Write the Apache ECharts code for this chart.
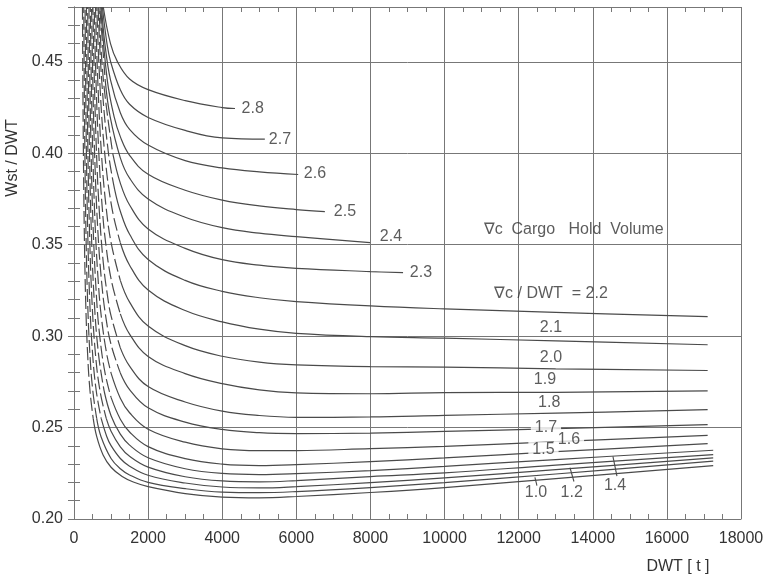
<!DOCTYPE html>
<html><head><meta charset="utf-8">
<script src="https://cdn.jsdelivr.net/npm/echarts@6/dist/echarts.min.js"></script>
<style>html,body{margin:0;padding:0;background:#fff}#c{width:769px;height:579px}</style>
</head><body><div id="c"></div>
<script>
// Vc/DWT ratio of each curve
const ratios = ['1.0','1.1','1.2','1.3','1.4','1.5','1.6','1.7','1.8','1.9','2.0','2.1','2.2','2.3','2.4','2.5','2.6','2.7','2.8'];
// curve points [DWT, Wst/DWT]
const c10 = [[229,0.48],[239,0.44],[254,0.40],[276,0.36],[314,0.32],[368,0.29],[432,0.27],[518,0.255],[614,0.245],[785,0.235],[1000,0.2283],[1300,0.2232],[1600,0.2202],[2000,0.2177],[3000,0.2139],[4000,0.2120],[5000,0.2116],[6000,0.2123],[8000,0.2145],[10000,0.2172],[13000,0.2221],[17250,0.2292]];
const c11 = [[264,0.48],[276,0.44],[294,0.40],[320,0.36],[366,0.32],[430,0.29],[508,0.27],[612,0.255],[730,0.245],[1000,0.2331],[1250,0.2275],[1500,0.2241],[2000,0.2200],[3000,0.2166],[4000,0.2147],[5000,0.2144],[6000,0.2150],[8000,0.2172],[10000,0.2199],[13000,0.2246],[17250,0.2316]];
const c12 = [[299,0.48],[314,0.44],[335,0.40],[367,0.36],[423,0.32],[503,0.29],[601,0.27],[733,0.255],[886,0.245],[1000,0.2401],[1250,0.2331],[1500,0.2289],[2000,0.2239],[3000,0.2197],[4000,0.2175],[5000,0.2170],[6000,0.2177],[8000,0.2199],[10000,0.2225],[13000,0.2270],[17250,0.2334]];
const c13 = [[334,0.48],[351,0.44],[376,0.40],[415,0.36],[483,0.32],[580,0.29],[702,0.27],[870,0.255],[1000,0.2480],[1250,0.2395],[1500,0.2343],[2000,0.2284],[3000,0.2231],[4000,0.2208],[5000,0.2203],[6000,0.2210],[8000,0.2232],[10000,0.2252],[13000,0.2295],[17250,0.2352]];
const c14 = [[369,0.48],[389,0.44],[419,0.40],[464,0.36],[544,0.32],[662,0.29],[813,0.27],[1000,0.2565],[1250,0.2464],[1500,0.2404],[2000,0.2335],[3000,0.2275],[4000,0.2249],[5000,0.2243],[6000,0.2248],[8000,0.2265],[10000,0.2288],[13000,0.2325],[17250,0.2376]];
const c15 = [[404,0.48],[428,0.44],[462,0.40],[515,0.36],[611,0.32],[695,0.30],[836,0.28],[1000,0.2665],[1250,0.2546],[1500,0.2476],[2000,0.2396],[3000,0.2330],[4000,0.2300],[5000,0.2292],[6000,0.2297],[8000,0.2314],[10000,0.2334],[13000,0.2368],[17100,0.2412]];
const c16 = [[439,0.48],[467,0.44],[507,0.40],[572,0.36],[654,0.33],[741,0.31],[885,0.29],[1000,0.2798],[1250,0.2661],[1500,0.2581],[2000,0.2491],[3000,0.2420],[4000,0.2384],[5000,0.2374],[6000,0.2374],[8000,0.2385],[10000,0.2397],[13000,0.2423],[17100,0.2457]];
const c17 = [[474,0.48],[507,0.44],[556,0.40],[637,0.36],[743,0.33],[862,0.31],[1000,0.2954],[1250,0.2799],[1500,0.2708],[2000,0.2608],[3000,0.2530],[4000,0.2490],[5000,0.2472],[6000,0.2467],[8000,0.2470],[10000,0.2479],[13000,0.2494],[17100,0.2516]];
const c18 = [[510,0.48],[549,0.44],[608,0.40],[678,0.37],[791,0.34],[919,0.32],[1000,0.3111],[1250,0.2936],[1500,0.2836],[2000,0.2724],[3000,0.2640],[4000,0.2590],[5000,0.2566],[6000,0.2556],[8000,0.2558],[10000,0.2567],[13000,0.2579],[17100,0.2598]];
const c19 = [[545,0.48],[593,0.44],[670,0.40],[763,0.37],[860,0.35],[1014,0.33],[1250,0.3122],[1500,0.3011],[2000,0.2889],[3000,0.2795],[4000,0.2740],[5000,0.2706],[6000,0.2690],[8000,0.2685],[10000,0.2691],[13000,0.2693],[17100,0.2701]];
const c20 = [[580,0.48],[641,0.44],[740,0.40],[869,0.37],[1012,0.35],[1250,0.3305],[1500,0.3186],[2000,0.3055],[3000,0.2948],[4000,0.2890],[5000,0.2858],[6000,0.2843],[8000,0.2833],[10000,0.2831],[13000,0.2821],[17100,0.2812]];
const c21 = [[615,0.48],[693,0.44],[829,0.40],[1024,0.37],[1250,0.3511],[1500,0.3388],[2000,0.3252],[3000,0.3140],[4000,0.3078],[5000,0.3038],[6000,0.3015],[8000,0.2997],[10000,0.2989],[13000,0.2974],[17100,0.2953]];
const c22 = [[650,0.48],[747,0.44],[930,0.40],[1099,0.38],[1250,0.3683],[1500,0.3557],[2000,0.3419],[3000,0.3305],[4000,0.3245],[5000,0.3210],[6000,0.3189],[8000,0.3165],[10000,0.3149],[13000,0.3130],[17100,0.3107]];
const c23 = [[673,0.48],[793,0.44],[1045,0.40],[1250,0.3837],[1500,0.3717],[2000,0.3586],[3000,0.3480],[4000,0.3418],[5000,0.3388],[6000,0.3371],[8000,0.3353],[8880,0.3347]];
const c24 = [[696,0.48],[842,0.44],[975,0.42],[1250,0.3975],[1500,0.3864],[2000,0.3750],[3000,0.3650],[4000,0.3593],[5000,0.3563],[6000,0.3544],[7990,0.3511]];
const c25 = [[720,0.48],[898,0.44],[1082,0.42],[1250,0.4091],[1500,0.3989],[2000,0.3885],[3000,0.3798],[4000,0.3744],[5000,0.3712],[6000,0.3692],[6770,0.3681]];
const c26 = [[743,0.48],[833,0.46],[986,0.44],[1250,0.4222],[1500,0.4131],[2000,0.4045],[3000,0.3960],[4000,0.3920],[5000,0.3898],[6050,0.3884]];
const c27 = [[766,0.48],[890,0.46],[989,0.45],[1250,0.4347],[1500,0.4268],[2000,0.4196],[3000,0.4125],[4000,0.4084],[5150,0.4077]];
const c28 = [[790,0.48],[985,0.46],[1174,0.45],[1500,0.4406],[2000,0.4348],[3000,0.4288],[4000,0.4250],[4345,0.4245]];
const curves = [c10,c11,c12,c13,c14,c15,c16,c17,c18,c19,c20,c21,c22,c23,c24,c25,c26,c27,c28];
// number of leading points of each curve drawn dashed
const dashCounts = [8,8,8,8,7,8,8,8,8,7,6,5,4,3,2,0,0,0,0];

// curve labels
const labelTexts = ['2.8','2.7','2.6','2.5','2.4','2.3','\u2207c / DWT  = 2.2','2.1','2.0','1.9','1.8','1.7','1.6','1.5','1.0','1.2','1.4','\u2207c  Cargo   Hold  Volume'];
const labelX = [4822,5558,6503,7312,8554,9363,12871,12871,12871,12709,12825,12736,13357,12669,12466,13430,14600,13484];
const labelY = [0.4245,0.4077,0.3891,0.3680,0.3544,0.3347,0.3231,0.3047,0.2882,0.2761,0.2636,0.2499,0.2434,0.2379,0.2143,0.2143,0.2180,0.3584];
const maskedLabels = ['1.7','1.6','1.5'];
// leader lines for 1.0, 1.2, 1.4
const leader10 = [[12439,0.2227],[12493,0.2183]];
const leader12 = [[13384,0.2281],[13492,0.2205]];
const leader14 = [[14544,0.2343],[14652,0.2234]];

const FONT = "'Liberation Sans', Arial, Helvetica, sans-serif";
const TXT = '#333';
const LINE = '#4a4a4a';
const GRID = '#777';

const series = [];
curves.forEach((pts, i) => {
  const n = dashCounts[i];
  if (n > 1) {
    series.push({type:'line', data: pts.slice(0, n), symbol:'none', smooth:0.4,
      lineStyle:{color:LINE, width:1.2, type:[13,4], dashOffset:(i * 7) % 17}, silent:true, z:3});
  }
  series.push({type:'line', data: pts.slice(Math.max(n-1,0)), symbol:'none', smooth:0.4,
    lineStyle:{color:LINE, width:1.2}, silent:true, z:3});
});
[leader10, leader12, leader14].forEach(d => series.push({type:'line', data:d, symbol:'none', lineStyle:{color:LINE, width:1.1}, silent:true, z:3}));
series.push({
  type:'scatter', symbolSize:0, silent:true, z:10,
  data: labelTexts.map((t, i) => ({name:t, value:[labelX[i], labelY[i]],
    label: maskedLabels.includes(t) ? {backgroundColor:'#fff', padding:[0,4]} : {}})),
  label:{show:true, position:'inside', formatter: p => p.name, color:TXT, fontSize:16, fontFamily:FONT, align:'center', verticalAlign:'middle'}
});

const chart = echarts.init(document.getElementById('c'), null, {renderer:'canvas'});
chart.setOption({
  animation:false,
  backgroundColor:'#fff',
  grid:{left:74, right:28, top:7, bottom:60, containLabel:false},
  xAxis:[
    {type:'value', min:0, max:18000, interval:2000, position:'bottom',
      axisLine:{show:true, lineStyle:{color:GRID, width:1}}, axisTick:{show:false},
      axisLabel:{color:TXT, fontSize:16, fontFamily:FONT, margin:12, formatter: v => String(v)},
      splitLine:{show:true, lineStyle:{color:GRID, width:1}}},
    {type:'value', min:0, max:18000, interval:500, position:'bottom',
      axisLine:{show:false}, axisLabel:{show:false}, splitLine:{show:false},
      axisTick:{show:true, inside:true, length:5, lineStyle:{color:GRID}}},
    {type:'value', min:0, max:18000, interval:500, position:'top',
      axisLine:{show:true, lineStyle:{color:GRID}}, axisLabel:{show:false}, splitLine:{show:false},
      axisTick:{show:true, inside:true, length:5, lineStyle:{color:GRID}}}
  ],
  yAxis:[
    {type:'value', min:0.2, max:0.48, interval:0.05, position:'left',
      axisLine:{show:true, lineStyle:{color:GRID}}, axisTick:{show:false},
      axisLabel:{color:TXT, fontSize:16, fontFamily:FONT, margin:11, showMaxLabel:false, formatter:v => v.toFixed(2)},
      splitLine:{show:true, lineStyle:{color:GRID, width:1}}},
    {type:'value', min:0.2, max:0.48, interval:0.01, position:'left',
      axisLine:{show:false}, axisLabel:{show:false}, splitLine:{show:false},
      axisTick:{show:true, inside:true, length:6, lineStyle:{color:GRID}}},
    {type:'value', min:0.2, max:0.48, interval:0.01, position:'right',
      axisLine:{show:true, lineStyle:{color:GRID}}, axisLabel:{show:false}, splitLine:{show:false},
      axisTick:{show:true, inside:true, length:6, lineStyle:{color:GRID}}}
  ],
  graphic:[
    {type:'text', x:13, y:158, rotation:Math.PI/2, style:{text:'Wst / DWT', fill:TXT, font:'16px ' + FONT, textAlign:'center', textVerticalAlign:'middle'}},
    {type:'text', x:678, y:567, style:{text:'DWT [ t ]', fill:TXT, font:'16px ' + FONT, textAlign:'center', textVerticalAlign:'middle'}}
  ],
  series: series
});
</script></body></html>
